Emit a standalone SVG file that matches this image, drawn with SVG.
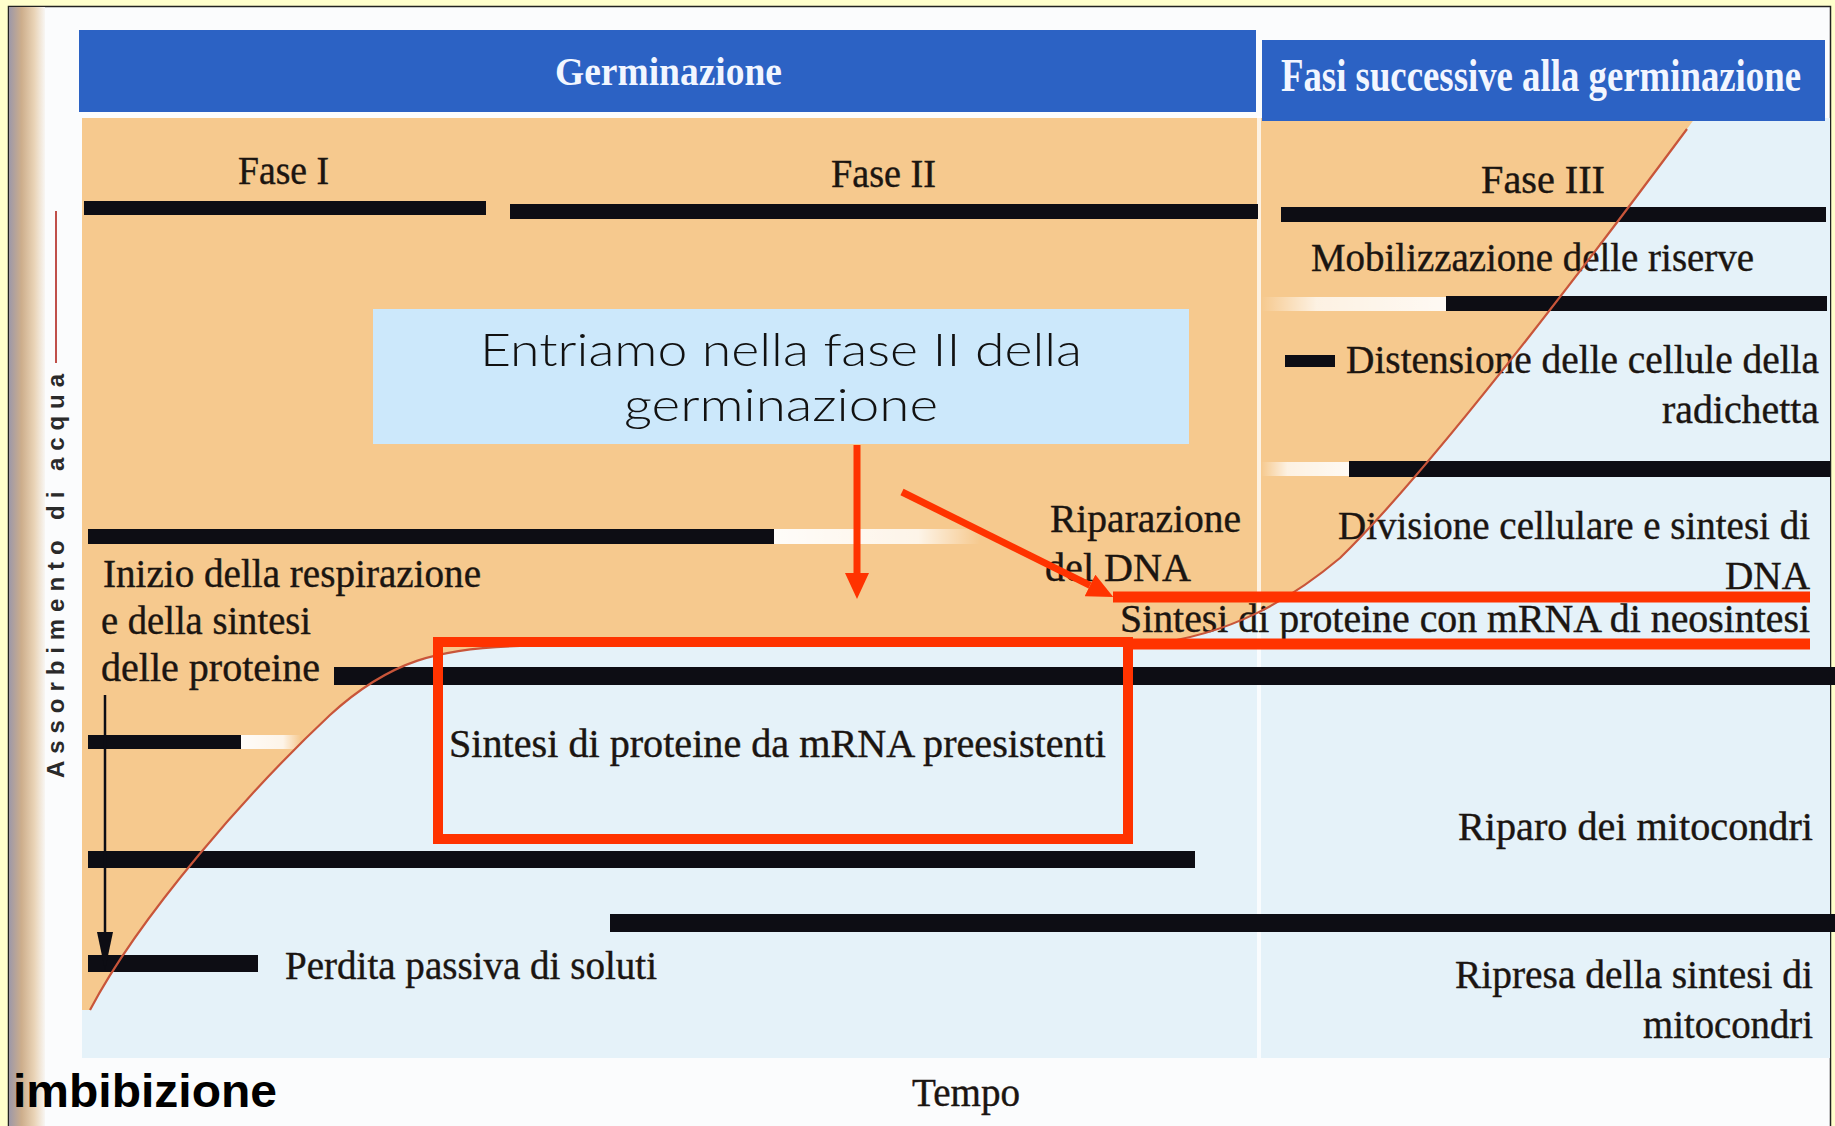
<svg xmlns="http://www.w3.org/2000/svg" width="1835" height="1126" viewBox="0 0 1835 1126">
<defs>
<style>
.lbl{font-family:"Liberation Serif","Times New Roman",serif;font-size:39px;fill:#1b1511;stroke:#1b1511;stroke-width:0.4}
.hdr{font-family:"Liberation Serif","Times New Roman",serif;font-weight:bold;font-size:41px;fill:#f2f6ff}
.bar{fill:#0d0d14}
.red{stroke:#ff3300;fill:none}
.call{font-family:"Lato","Liberation Sans",sans-serif;font-weight:300;font-size:45px;fill:#111}
</style>
<linearGradient id="gutter" x1="0" y1="0" x2="1" y2="0">
<stop offset="0" stop-color="#9d98a8"/>
<stop offset="0.35" stop-color="#cdae8c"/>
<stop offset="0.7" stop-color="#e9d3b6"/>
<stop offset="1" stop-color="#f8f6f3"/>
</linearGradient>
<linearGradient id="fadeR" x1="0" y1="0" x2="1" y2="0">
<stop offset="0" stop-color="#ffffff" stop-opacity="0.95"/>
<stop offset="0.7" stop-color="#ffffff" stop-opacity="0.8"/>
<stop offset="1" stop-color="#ffffff" stop-opacity="0"/>
</linearGradient>
<linearGradient id="fadeL" x1="0" y1="0" x2="1" y2="0">
<stop offset="0" stop-color="#ffffff" stop-opacity="0"/>
<stop offset="0.3" stop-color="#ffffff" stop-opacity="0.75"/>
<stop offset="1" stop-color="#ffffff" stop-opacity="0.9"/>
</linearGradient>
<marker id="redHead" viewBox="0 0 26 24" refX="0" refY="12" markerWidth="26" markerHeight="24" markerUnits="userSpaceOnUse" orient="auto">
<path d="M0,0 L26,12 L0,24 Z" fill="#ff3300"/>
</marker>
<marker id="blackHead" viewBox="0 0 38 16" refX="0" refY="8" markerWidth="38" markerHeight="16" markerUnits="userSpaceOnUse" orient="auto">
<path d="M0,0 L38,8 L0,16 Z" fill="#0d0d14"/>
</marker>
</defs>

<g id="background">
<rect x="0" y="0" width="1835" height="1126" fill="#ffffcc"/>
<rect x="8.5" y="6.5" width="1822" height="1130" fill="#fbfcfd" stroke="#222" stroke-width="1.5"/>
<rect x="9" y="7" width="36" height="1119" fill="url(#gutter)"/>
<rect x="82" y="118" width="1748" height="940" fill="#e5f2f9"/>
<path d="M82,118 L1695,118 L1687,129 C1560,300 1420,480 1340,558 C1290,600 1230,635 1150,644 L520,646 C440,648 390,660 330,715 C250,790 140,915 90,1010 L82,1010 Z" fill="#f6c98e"/>
<line x1="1259" y1="116" x2="1259" y2="1058" stroke="#ffffff" stroke-width="4" stroke-opacity="0.75"/>
</g>

<g id="header">
<rect x="79" y="30" width="1177" height="82" fill="#2c62c4"/>
<rect x="1262" y="40" width="563" height="81" fill="#2c62c4"/>
<text class="hdr" x="555" y="85" textLength="227" lengthAdjust="spacingAndGlyphs">Germinazione</text>
<text class="hdr" transform="translate(1281,91) scale(1,1.12)" x="0" y="0" font-size="31.5" textLength="520" lengthAdjust="spacingAndGlyphs">Fasi successive alla germinazione</text>
</g>

<g id="axis">
<line x1="56" y1="211" x2="56" y2="363" stroke="#c0504a" stroke-width="2"/>
<text transform="translate(64,778) rotate(-90)" font-family="Liberation Sans, Arial, sans-serif" font-weight="bold" font-size="24" fill="#2a2a2a" textLength="404" lengthAdjust="spacing">Assorbimento di acqua</text>
<text class="lbl" x="912" y="1106" textLength="108" lengthAdjust="spacingAndGlyphs">Tempo</text>
</g>

<g id="fase1">
<text class="lbl" x="238" y="184" textLength="91" lengthAdjust="spacingAndGlyphs">Fase I</text>
<rect class="bar" x="84" y="201" width="402" height="14"/>
</g>
<g id="fase2">
<text class="lbl" x="831" y="187" textLength="105" lengthAdjust="spacingAndGlyphs">Fase II</text>
<rect class="bar" x="510" y="204" width="748" height="15"/>
</g>
<g id="fase3">
<text class="lbl" x="1481" y="193" textLength="124" lengthAdjust="spacingAndGlyphs">Fase III</text>
<rect class="bar" x="1281" y="207" width="545" height="15"/>
</g>

<g id="mobilizzazione">
<text class="lbl" x="1311" y="271" textLength="443" lengthAdjust="spacingAndGlyphs">Mobilizzazione delle riserve</text>
<rect x="1261" y="297" width="185" height="14" fill="url(#fadeL)"/>
<rect class="bar" x="1446" y="296" width="381" height="15"/>
</g>

<g id="distensione">
<rect class="bar" x="1285" y="355" width="50" height="12"/>
<text class="lbl" x="1346" y="373" textLength="473" lengthAdjust="spacingAndGlyphs">Distensione delle cellule della</text>
<text class="lbl" x="1662" y="423" textLength="157" lengthAdjust="spacingAndGlyphs">radichetta</text>
</g>

<g id="divisione">
<rect x="1261" y="462" width="88" height="14" fill="url(#fadeL)"/>
<rect class="bar" x="1349" y="461" width="481" height="16"/>
<text class="lbl" x="1338" y="539" textLength="472" lengthAdjust="spacingAndGlyphs">Divisione cellulare e sintesi di</text>
<text class="lbl" x="1725" y="589" textLength="85" lengthAdjust="spacingAndGlyphs">DNA</text>
</g>

<g id="riparazione">
<rect class="bar" x="88" y="529" width="686" height="15"/>
<rect x="774" y="529" width="206" height="15" fill="url(#fadeR)"/>
<text class="lbl" x="1050" y="532" textLength="191" lengthAdjust="spacingAndGlyphs">Riparazione</text>
<text class="lbl" x="1045" y="581" textLength="146" lengthAdjust="spacingAndGlyphs">del DNA</text>
</g>

<g id="neosintesi">
<text class="lbl" x="1120" y="632" textLength="690" lengthAdjust="spacingAndGlyphs">Sintesi di proteine con mRNA di neosintesi</text>
</g>

<g id="respirazione">
<text class="lbl" x="103" y="587" textLength="378" lengthAdjust="spacingAndGlyphs">Inizio della respirazione</text>
<text class="lbl" x="101" y="634" textLength="210" lengthAdjust="spacingAndGlyphs">e della sintesi</text>
<text class="lbl" x="101" y="681" textLength="219" lengthAdjust="spacingAndGlyphs">delle proteine</text>
<rect class="bar" x="334" y="667" width="1501" height="18"/>
</g>

<g id="preesistenti">
<text class="lbl" x="449" y="757" textLength="657" lengthAdjust="spacingAndGlyphs">Sintesi di proteine da mRNA preesistenti</text>
</g>

<g id="small-bar">
<rect class="bar" x="88" y="735" width="153" height="14"/>
<rect x="241" y="735" width="60" height="14" fill="url(#fadeR)"/>
</g>

<g id="riparo-mitocondri">
<rect class="bar" x="88" y="851" width="1107" height="17"/>
<text class="lbl" x="1458" y="840" textLength="355" lengthAdjust="spacingAndGlyphs">Riparo dei mitocondri</text>
</g>

<g id="ripresa-mitocondri">
<rect class="bar" x="610" y="914" width="1225" height="18"/>
<text class="lbl" x="1455" y="988" textLength="358" lengthAdjust="spacingAndGlyphs">Ripresa della sintesi di</text>
<text class="lbl" x="1643" y="1038" textLength="170" lengthAdjust="spacingAndGlyphs">mitocondri</text>
</g>

<g id="perdita">
<rect class="bar" x="88" y="955" width="170" height="17"/>
<text class="lbl" x="285" y="979" textLength="372" lengthAdjust="spacingAndGlyphs">Perdita passiva di soluti</text>
</g>

<g id="curve">
<path d="M90,1010 C140,915 250,790 330,715 C390,660 440,648 520,646 L1150,644 C1230,635 1290,600 1340,558 C1420,480 1560,300 1687,129" fill="none" stroke="#c8553a" stroke-width="2.2"/>
</g>

<g id="imbibizione">
<text x="13" y="1107" font-family="Liberation Sans, Arial, sans-serif" font-weight="bold" font-size="47" fill="#000" textLength="264" lengthAdjust="spacingAndGlyphs">imbibizione</text>
</g>

<g id="callout">
<rect x="373" y="309" width="816" height="135" fill="#cce8fb"/>
<text class="call" x="480" y="366" textLength="602" lengthAdjust="spacingAndGlyphs">Entriamo nella fase II della</text>
<text class="call" x="624" y="421" textLength="314" lengthAdjust="spacingAndGlyphs">germinazione</text>
</g>

<g id="highlight">
<rect class="red" x="438" y="642" width="690" height="197" stroke-width="10"/>
<line class="red" x1="1123" y1="644" x2="1810" y2="644" stroke-width="11"/>
<line class="red" x1="1113" y1="597" x2="1810" y2="597" stroke-width="11"/>
</g>

<g id="connectors">
<line class="red" x1="857" y1="445" x2="857" y2="573" stroke-width="7" marker-end="url(#redHead)"/>
<line class="red" x1="902" y1="492" x2="1090" y2="585.4" stroke-width="7" marker-end="url(#redHead)"/>
<line x1="105" y1="695" x2="105" y2="932" stroke="#0d0d14" stroke-width="2.5" marker-end="url(#blackHead)"/>
</g>
</svg>
